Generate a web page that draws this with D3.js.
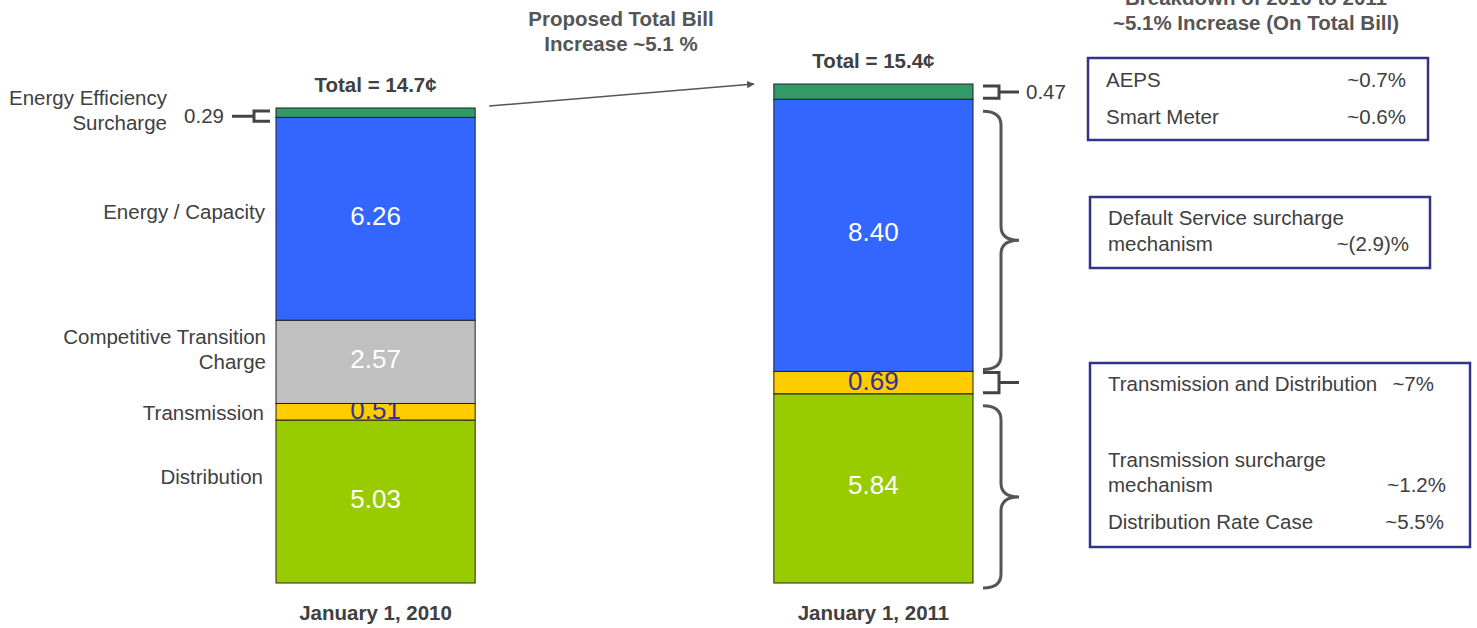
<!DOCTYPE html>
<html>
<head>
<meta charset="utf-8">
<script src="https://cdn.jsdelivr.net/npm/d3@7"></script>
<style>
  body { margin: 0; background: #fff; }
  svg { font-family: "Liberation Sans", Arial, sans-serif; }
</style>
</head>
<body>
<svg id="chart" width="1477" height="628"></svg>
<script>
// chart data
var periods = ["January 1, 2010", "January 1, 2011"];
var categories = ["Distribution", "Transmission", "Competitive Transition Charge", "Energy / Capacity", "Energy Efficiency Surcharge"];
var values2010 = [5.03, 0.51, 2.57, 6.26, 0.29];
var values2011 = [5.84, 0.69, 0, 8.40, 0.47];
var totalLabels = ["Total = 14.7\u00a2", "Total = 15.4\u00a2"];
var colors = ["#99cc00", "#ffcc00", "#c0c0c0", "#3366ff", "#339966"];
var valueColors = ["#ffffff", "#333399", "#ffffff", "#ffffff", "#ffffff"];

var box1Items = ["AEPS", "Smart Meter"];
var box1Values = ["~0.7%", "~0.6%"];
var box2Lines = ["Default Service surcharge", "mechanism"];
var box2Value = "~(2.9)%";
var box3Lines = ["Transmission and Distribution", "Transmission surcharge", "mechanism", "Distribution Rate Case"];
var box3Values = ["~7%", "~1.2%", "~5.5%"];

var svg = d3.select("#chart");
var textColor = "#404040";
var fs = "20.5px";

var x = d3.scaleBand().domain(periods).range([276, 973]).paddingInner(0.6).paddingOuter(0);
var y = d3.scaleLinear().domain([0, 15.4]).range([583, 84]);

var table = periods.map(function (p, i) {
  var row = { period: p };
  var vals = i == 0 ? values2010 : values2011;
  categories.forEach(function (c, j) { row[c] = vals[j]; });
  return row;
});
var stack = d3.stack().keys(categories)(table);

// bars
stack.forEach(function (layer, j) {
  layer.forEach(function (d) {
    if (d[1] - d[0] <= 0) return;
    svg.append("rect")
      .attr("x", x(d.data.period))
      .attr("y", y(d[1]))
      .attr("width", x.bandwidth())
      .attr("height", y(d[0]) - y(d[1]))
      .style("fill", colors[j])
      .style("stroke", "#222")
      .style("stroke-width", 1);
    if (j < 4) {
      svg.append("text")
        .attr("x", x(d.data.period) + x.bandwidth() / 2)
        .attr("y", (y(d[0]) + y(d[1])) / 2 + (j == 1 ? 7 : 6))
        .attr("text-anchor", "middle")
        .style("font-size", "26px")
        .style("fill", valueColors[j])
        .text(d3.format(".2f")(d[1] - d[0]));
    }
  });
});

// period labels + totals
periods.forEach(function (p, i) {
  var cx = x(p) + x.bandwidth() / 2;
  svg.append("text").attr("x", cx).attr("y", 620).attr("text-anchor", "middle")
    .style("font-size", fs).style("font-weight", "bold").style("fill", textColor).text(p);
  var top = y(d3.sum(i == 0 ? values2010 : values2011));
  svg.append("text").attr("x", cx).attr("y", top - 16).attr("text-anchor", "middle")
    .style("font-size", fs).style("font-weight", "bold").style("fill", textColor).text(totalLabels[i]);
});

// left category labels
function leftLabel(lines, yy, xx) {
  lines.forEach(function (t, k) {
    svg.append("text").attr("x", xx).attr("y", yy + k * 25).attr("text-anchor", "end")
      .style("font-size", fs).style("fill", textColor).text(t);
  });
}
leftLabel(["Distribution"], 484, 263);
leftLabel(["Transmission"], 420, 264);
leftLabel(["Competitive Transition", "Charge"], 344, 266);
leftLabel(["Energy / Capacity"], 219, 265);
leftLabel(["Energy Efficiency", "Surcharge"], 105, 167);

// small bracket on left bar (EE)
var ee0 = stack[4][0];
var bx = x(periods[0]);
var eTop = y(ee0[1]) + 3, eBot = y(ee0[0]) + 4, eMid = (eTop + eBot) / 2;
svg.append("path")
  .attr("d", "M" + (bx - 6) + "," + eTop + " L" + (bx - 22) + "," + eTop + " L" + (bx - 22) + "," + eBot + " L" + (bx - 6) + "," + eBot +
    " M" + (bx - 22) + "," + eMid + " L" + (bx - 44) + "," + eMid)
  .style("fill", "none").style("stroke", "#444").style("stroke-width", 3);
svg.append("text").attr("x", bx - 52).attr("y", eMid + 7).attr("text-anchor", "end")
  .style("font-size", fs).style("fill", textColor).text(d3.format(".2f")(values2010[4]));

// braces on right bar
var rx = x(periods[1]) + x.bandwidth();
function bracket(y0, y1, x0) {
  var ym = (y0 + y1) / 2;
  svg.append("path")
    .attr("d", "M" + x0 + "," + y0 + " L" + (x0 + 16) + "," + y0 + " L" + (x0 + 16) + "," + y1 + " L" + x0 + "," + y1 +
      " M" + (x0 + 16) + "," + ym + " L" + (x0 + 36) + "," + ym)
    .style("fill", "none").style("stroke", "#444").style("stroke-width", 3);
  return ym;
}
function brace(y0, y1, x0) {
  var ym = (y0 + y1) / 2, xv = x0 + 18, xt = x0 + 36, r = 14;
  svg.append("path")
    .attr("d", "M" + x0 + "," + y0 +
      " Q" + xv + "," + y0 + " " + xv + "," + (y0 + r) +
      " L" + xv + "," + (ym - r) +
      " Q" + xv + "," + ym + " " + xt + "," + ym +
      " Q" + xv + "," + ym + " " + xv + "," + (ym + r) +
      " L" + xv + "," + (y1 - r) +
      " Q" + xv + "," + y1 + " " + x0 + "," + y1)
    .style("fill", "none").style("stroke", "#555").style("stroke-width", 3);
}
var ee1 = stack[4][1];
var ym47 = bracket(y(ee1[1]) + 2, y(ee1[0]) - 1, rx + 10);
svg.append("text").attr("x", rx + 53).attr("y", ym47 + 7)
  .style("font-size", fs).style("fill", textColor).text(d3.format(".2f")(values2011[4]));
var en1 = stack[3][1];
brace(y(en1[1]) + 12, y(en1[0]) - 2, rx + 10);
var tr1 = stack[1][1];
bracket(y(tr1[1]) + 1, y(tr1[0]) - 1, rx + 10);
var di1 = stack[0][1];
brace(y(di1[1]) + 12, y(di1[0]) + 5, rx + 10);

// arrow between bars
svg.append("defs").append("marker").attr("id", "arr").attr("viewBox", "0 0 10 10")
  .attr("refX", 9).attr("refY", 5).attr("markerWidth", 5).attr("markerHeight", 5).attr("orient", "auto")
  .append("path").attr("d", "M0,0 L10,5 L0,10 z").style("fill", "#555");
svg.append("line").attr("x1", x(periods[0]) + x.bandwidth() + 14).attr("y1", 106)
  .attr("x2", x(periods[1]) - 20).attr("y2", 84)
  .style("stroke", "#555").style("stroke-width", 1.5).attr("marker-end", "url(#arr)");

// headers
function header(lines, cx, y0) {
  lines.forEach(function (t, k) {
    svg.append("text").attr("x", cx).attr("y", y0 + k * 25).attr("text-anchor", "middle")
      .style("font-size", fs).style("font-weight", "bold").style("fill", "#555").text(t);
  });
}
header(["Proposed Total Bill", "Increase ~5.1 %"], 621, 26);
header(["Breakdown of 2010 to 2011", "~5.1% Increase (On Total Bill)"], 1256, 5);

// breakdown boxes
function box(x0, y0, w, h) {
  svg.append("rect").attr("x", x0).attr("y", y0).attr("width", w).attr("height", h)
    .style("fill", "#fff").style("stroke", "#333388").style("stroke-width", 2.5);
}
function boxText(t, xx, yy, anchor) {
  svg.append("text").attr("x", xx).attr("y", yy).attr("text-anchor", anchor || "start")
    .style("font-size", fs).style("fill", textColor).text(t);
}
box(1088, 58, 340, 82);
boxText(box1Items[0], 1106, 87); boxText(box1Values[0], 1406, 87, "end");
boxText(box1Items[1], 1106, 124); boxText(box1Values[1], 1406, 124, "end");

box(1090, 197, 340, 71);
boxText(box2Lines[0], 1108, 225); boxText(box2Lines[1], 1108, 251);
boxText(box2Value, 1409, 251, "end");

box(1090, 363, 380, 184);
boxText(box3Lines[0], 1108, 391); boxText(box3Values[0], 1434, 391, "end");
boxText(box3Lines[1], 1108, 467); boxText(box3Lines[2], 1108, 492);
boxText(box3Values[1], 1446, 492, "end");
boxText(box3Lines[3], 1108, 529); boxText(box3Values[2], 1444, 529, "end");
</script>
</body>
</html>
